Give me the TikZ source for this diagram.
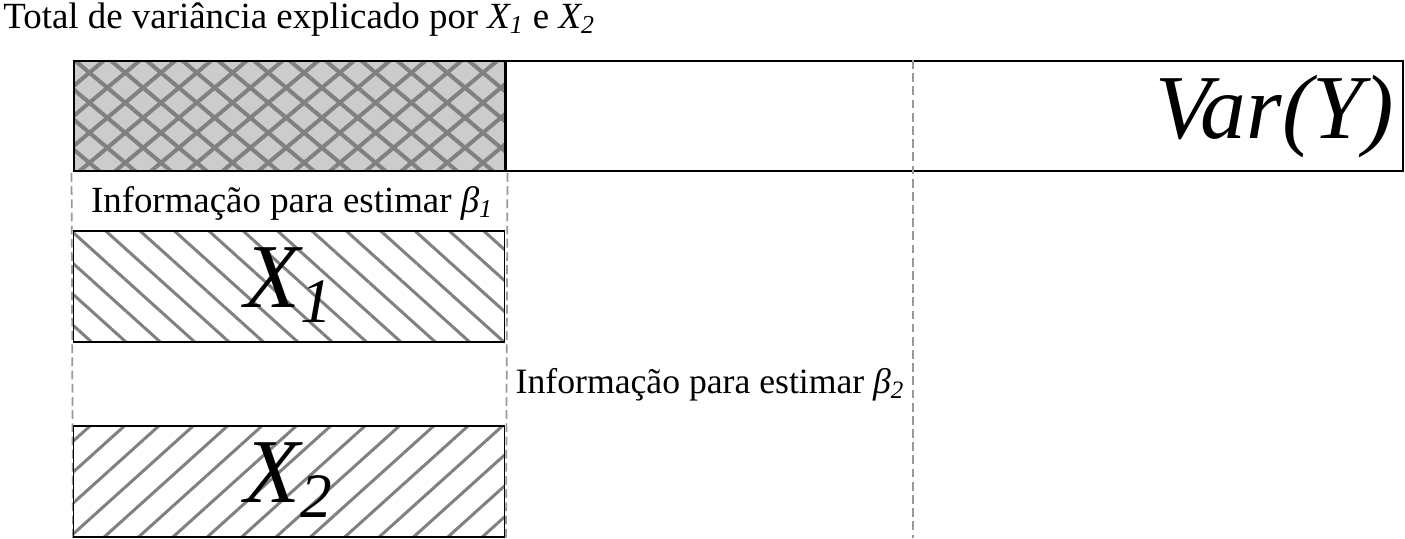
\documentclass[tikz,border=0pt]{standalone}
\usepackage{fontspec}
\setmainfont{Liberation Serif}
\usepackage{tikz}
\usetikzlibrary{patterns.meta, positioning}

\newcommand{\bigsub}[1]{\raisebox{-9pt}{\fontsize{36}{40}\selectfont #1}}

\begin{document}
\begin{tikzpicture}[
    x=0.02cm, y=-0.02cm,
    font=\fontsize{21}{24}\selectfont,
    label/.style={inner sep=0pt},
    bigtxt/.style={inner sep=0pt, font=\fontsize{52}{60}\selectfont\itshape},
    leftbox/.style={rectangle, inner sep=0pt, minimum width=8.64cm, minimum height=2.22cm},
    crossbox/.style={leftbox, draw=black, line width=1.1pt,
        preaction={fill=gray!40},
        preaction={pattern={Lines[angle=40, distance=0.46cm, line width=0.08cm]}, pattern color=gray},
        pattern={Lines[angle=-40, distance=0.46cm, line width=0.08cm]}, pattern color=gray},
    downbox/.style={leftbox, draw=black, line width=0.6pt,
        pattern={Lines[angle=-42, distance=0.46cm, line width=0.06cm]}, pattern color=gray},
    upbox/.style={leftbox, draw=black, line width=0.6pt,
        pattern={Lines[angle=42, distance=0.46cm, line width=0.06cm]}, pattern color=gray},
    guide/.style={draw=gray!80, line width=1pt, dash pattern=on 5pt off 2.5pt}
]
\useasboundingbox (0,0) rectangle (1405,538);

% Total variance bar
\node[label, anchor=base west] (title) at (3,28) {Total de variância explicado por \textit{X\textsubscript{1}} e \textit{X\textsubscript{2}}};
\node[rectangle, draw=black, line width=1pt, inner sep=0pt, minimum width=17.94cm, minimum height=2.2cm] (vary) at (954.5,116) {};
\node[crossbox, minimum height=2.2cm] (expl) at (289.5,116) {};
\node[bigtxt, anchor=base east] (vartxt) at (1394,138) {Var(Y)};

% Guides
\coordinate (gA) at (73,538);
\coordinate (gB) at (506,538);
\coordinate (gC) at (913,538);
\draw[guide] (expl.south west) -- (gA);
\draw[guide] (expl.south east) -- (gB);
\draw[guide] (vary.north west -| gC) -- (gC);

% Information for beta 1 and X1
\node[label, anchor=base] (info1) at (292,212) {Informação para estimar \textit{β\textsubscript{1}}};
\node[downbox] (xone) at (289,286.5) {};
\node[bigtxt, anchor=base] (xonetxt) at (288,307) {X\bigsub{1}};

% Information for beta 2 and X2
\node[label, anchor=base, font=\fontsize{20.3}{24}\selectfont] (info2) at (710,393) {Informação para estimar \textit{β\textsubscript{2}}};
\node[upbox] (xtwo) at (289,481.5) {};
\node[bigtxt, anchor=base] (xtwotxt) at (288,502) {X\bigsub{2}};

\end{tikzpicture}
\end{document}
